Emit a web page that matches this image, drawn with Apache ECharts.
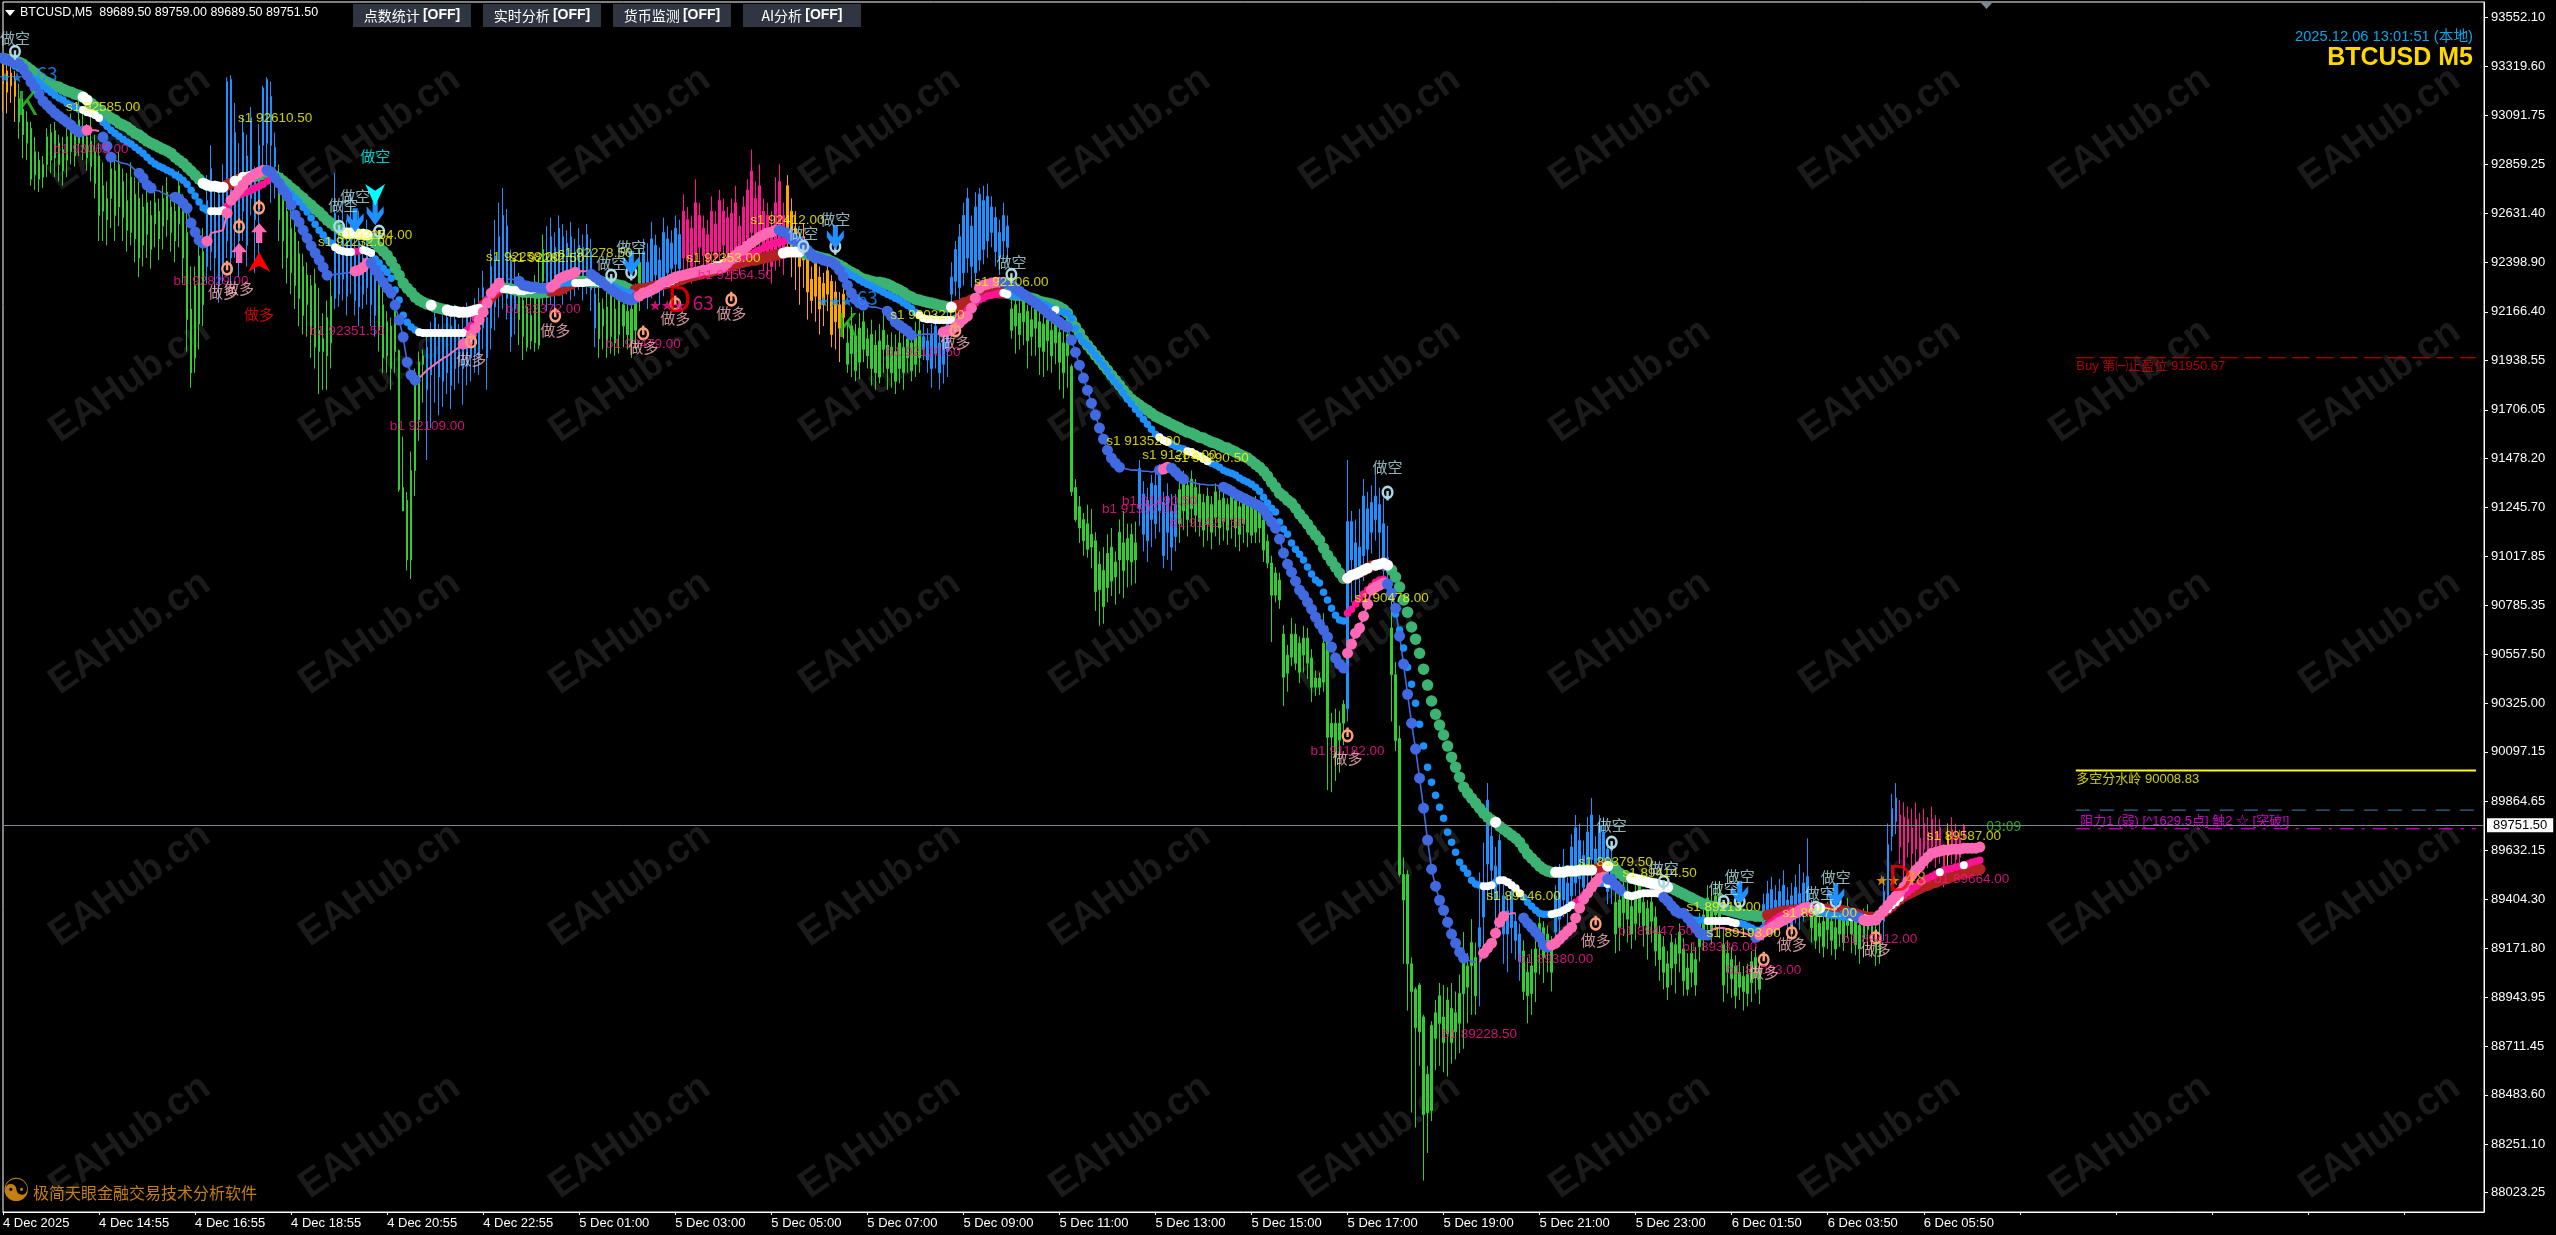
<!DOCTYPE html>
<html><head><meta charset="utf-8">
<style>html,body{margin:0;padding:0;background:#000}#c{width:2556px;height:1235px}</style>
<script src="https://cdn.jsdelivr.net/npm/echarts@6/dist/echarts.min.js"></script></head>
<body><div id="c"></div>
<script>
// ---------- axis ----------
const priceTicks=[93552.10,93319.60,93091.75,92859.25,92631.40,92398.90,92166.40,91938.55,91706.05,91478.20,91245.70,91017.85,90785.35,90557.50,90325.00,90097.15,89864.65,89632.15,89404.30,89171.80,88943.95,88711.45,88483.60,88251.10,88023.25];
const timeTicks=["4 Dec 2025","4 Dec 14:55","4 Dec 16:55","4 Dec 18:55","4 Dec 20:55","4 Dec 22:55","5 Dec 01:00","5 Dec 03:00","5 Dec 05:00","5 Dec 07:00","5 Dec 09:00","5 Dec 11:00","5 Dec 13:00","5 Dec 15:00","5 Dec 17:00","5 Dec 19:00","5 Dec 21:00","5 Dec 23:00","6 Dec 01:50","6 Dec 03:50","6 Dec 05:50"];
const lastPrice=89751.50;
// ---------- candles: [body a, body b, low, high] ----------
const bars0=[[93240,93325,93110,93350],[93200,93300,93100,93345],[93230,93290,93150,93320],[93180,93260,93060,93300],
[93060,93170,92980,93240],[93000,93120,92890,93170],[92960,93060,92880,93110],[92790,93030,92760,93060],[92810,92920,92740,92990],[92790,92880,92730,92920],[92800,92860,92750,92900],[92860,92990,92800,93030],[92880,93010,92820,93050],[92890,93020,92800,93060],[92860,92960,92780,93000],[92830,92930,92760,92990],[92880,92990,92800,93030],[92920,93040,92860,93100],[92900,93000,92850,93050],[92960,93070,92900,93170],[92940,93030,92880,93120],[92890,92990,92830,93050],[92850,92970,92780,93090],[92770,92920,92700,93000],[92620,92900,92500,92960],[92640,92760,92500,92870],[92600,92700,92480,92780],[92700,92840,92560,92900],[92620,92830,92500,92880],[92660,92860,92570,92920],[92610,92780,92500,92840],[92550,92690,92450,92820],[92540,92800,92480,92870],[92510,92720,92400,92800],[92420,92700,92330,92780],[92480,92660,92380,92720],[92530,92680,92420,92770],[92460,92620,92370,92690],[92580,92680,92470,92770],[92510,92640,92410,92700],[92570,92700,92460,92760],[92600,92730,92520,92800],[92540,92660,92450,92720],[92500,92640,92400,92730],[92580,92760,92470,92830],[92420,92650,92300,92720],[92130,92540,91980,92650],[91880,92180,91810,92380],[91950,92290,91880,92380],[92110,92430,91990,92500],[92200,92450,92100,92560],
[92380,92690,92300,92810],[92450,92840,92360,92950],[92420,92640,92260,92770],[92290,92720,92210,92780],[92380,92760,92300,92860],[92500,93250,92420,93270],[92420,93260,92300,93280],[92550,93010,92420,93150],[92500,92780,92330,92960],[92640,93010,92500,93090],[92480,92900,92380,93000],[92700,93080,92620,93130],[92600,92800,92350,92850],[92640,92950,92400,93050],[92950,93220,92800,93230],[92960,93260,92800,93270],[92950,93180,92680,93250],[92850,92940,92700,93010],
[92600,92800,92500,92860],[92500,92760,92370,92820],[92420,92640,92300,92760],[92350,92560,92250,92670],[92290,92540,92180,92600],[92230,92440,92100,92500],[92150,92380,92060,92440],[92200,92340,92050,92400],[92060,92290,91950,92340],[92000,92300,91900,92370],[91980,92080,91780,92280],[91980,92040,91800,92160],[91960,92140,91800,92220],[92020,92240,91900,92340],
[92230,92630,92180,92820],[92250,92480,92190,92620],[92320,92560,92220,92690],[92240,92500,92150,92600],[92350,92580,92250,92720],[92220,92460,92150,92550],[92190,92500,92100,92640],[92250,92420,92180,92500],[92280,92520,92200,92600],[92200,92390,92100,92470],[92150,92400,92050,92480],
[92080,92300,91980,92350],[91950,92200,91880,92280],[91960,92120,91880,92170],[91900,92100,91800,92140],[91980,92170,91880,92210]];
const bars1=[[91330,91985,91320,91990],[91230,91340,91240,91580],[91000,91280,90950,91320],[91000,91420,90910,91510],[91420,91840,91300,91900],[91660,91930,91560,91980],[91920,91960,91740,91990],
[91800,92000,91470,92080],[91870,92060,91620,92120],[91920,92140,91740,92190],[91860,92050,91680,92110],[91840,92080,91720,92150],[91880,92140,91780,92180],[91820,92100,91710,92170],[91900,92130,91800,92200],[91930,92070,91830,92110],[91900,92090,91730,92160],[91910,92140,91820,92210],[91950,92100,91840,92170],[91970,92160,91880,92230],[91950,92180,91870,92280],[92090,92280,91990,92360],[91950,92140,91800,92200],[92090,92380,91990,92460],[92190,92430,92080,92600],[92250,92520,92140,92680],[92320,92620,92180,92750],[92230,92570,92130,92650],[92050,92400,91980,92460],
[92180,92330,92060,92420],[92130,92240,92010,92350],[92050,92220,91940,92280],[92000,92190,91980,92260],[92030,92150,91990,92240],[92020,92280,91980,92340],[92010,92290,91990,92420],
[92310,92460,92200,92530],[92260,92430,92170,92570],[92290,92520,92200,92610],[92250,92470,92160,92540],[92330,92560,92240,92620],[92290,92520,92200,92580],[92340,92490,92250,92550],[92300,92520,92220,92590],[92320,92450,92240,92510],[92350,92480,92270,92560],[92310,92470,92220,92530],[92330,92530,92250,92580],[92270,92450,92170,92510],
[92090,92250,92000,92320],[92040,92210,91950,92280],[92100,92180,91990,92230],[92030,92190,91950,92260],[92050,92250,91970,92310],[92020,92180,91960,92230],[92060,92230,91970,92290],[92100,92200,92000,92260],[92060,92170,91990,92220],[92020,92180,91950,92240],[92080,92240,91990,92300],
[92230,92400,92170,92460],[92300,92450,92240,92510],[92260,92400,92180,92490],[92310,92510,92230,92590],[92340,92480,92260,92530],[92280,92410,92200,92470],[92310,92540,92240,92610],[92350,92510,92290,92570],[92370,92490,92310,92550],[92390,92560,92330,92620],
[92370,92530,92310,92600],[92420,92640,92360,92720],[92410,92600,92340,92660],[92380,92560,92300,92620],[92440,92680,92370,92790],[92470,92620,92390,92680],[92430,92560,92350,92620],[92390,92530,92320,92600],[92450,92640,92370,92710],[92420,92580,92340,92640],[92450,92690,92380,92740],[92480,92640,92400,92700],[92440,92610,92340,92660],[92420,92630,92310,92700],[92460,92680,92360,92760],
[92420,92570,92340,92620],[92470,92660,92380,92710],[92510,92740,92430,92790],[92540,92830,92460,92930],[92490,92700,92400,92780],[92530,92760,92450,92860],[92480,92640,92360,92700],[92420,92620,92340,92680],[92380,92560,92300,92640],[92440,92680,92360,92800],[92470,92780,92380,92860],[92430,92620,92340,92680],[92500,92760,92420,92810],[92450,92640,92330,92700]];
const bars2=[[92440,92560,92270,92640],[92380,92500,92200,92540],[92410,92520,92280,92580],[92260,92440,92130,92480],[92220,92320,92160,92380],[92240,92400,92120,92440],[92180,92330,92060,92380],[92200,92300,92100,92350],[92250,92360,92170,92420],[92060,92310,92000,92340],[92120,92260,91990,92310],[92090,92200,91930,92260],[92140,92250,92040,92300],
[91920,92020,91880,92120],[91970,92100,91860,92190],[91890,92050,91840,92110],[91930,92090,91850,92160],[91990,92120,91930,92170],[91960,92040,91900,92090],[91900,92060,91820,92130],[91880,92010,91800,92080],[91860,92030,91830,92110],[91990,92080,91880,92180],[91900,92010,91800,92060],[91880,92000,91810,92070],[91840,91980,91780,92060],[91900,92020,91830,92080],[91880,92000,91800,92060],[91950,92040,91880,92100],[91890,92020,91840,92090],[91920,92050,91860,92120],
[91950,92080,91880,92150],[91990,92050,91940,92110],[91940,92030,91880,92090],[91900,92060,91810,92110],[91970,92100,91900,92160],[91880,92020,91800,92080],[91920,92040,91830,92090],[91980,92110,91860,92170],
[92250,92330,92200,92400],[92310,92460,92240,92500],[92280,92520,92200,92580],[92350,92620,92290,92680],[92420,92700,92350,92750],[92380,92570,92280,92620],[92350,92660,92300,92730],[92410,92720,92360,92750],[92460,92690,92390,92760],[92500,92710,92420,92770],[92540,92660,92470,92710],[92450,92610,92380,92660],[92420,92540,92340,92600],[92500,92620,92430,92680],[92470,92570,92400,92620],
[92080,92180,92040,92240],[92100,92200,91970,92260],[92060,92160,91990,92230],[92120,92220,92010,92280],[92030,92170,91900,92200],[92050,92130,91960,92210],[92090,92180,91960,92240],[92000,92120,91870,92170],[91980,92110,91860,92190],[92030,92130,91890,92180],[91960,92080,91880,92150],[92020,92120,91920,92180],[91930,92070,91800,92120],[91880,92020,91760,92100],[91960,92060,91810,92110],[91320,91910,91300,91920],
[91190,91340,91180,91380],[91150,91250,91080,91300],[91090,91190,91020,91220],[91050,91170,91010,91260],[91060,91120,90960,91240],[90850,91090,90760,91130],[90860,90980,90690,91040],[90780,90950,90700,91060],[90870,91030,90800,91120],[90900,91060,90830,91150],[90920,90990,90790,91040],[91000,91130,90840,91190],[90950,91080,90820,91230],[91000,91100,90870,91170],[90990,91120,90880,91170],[91000,91080,90890,91180],
[91240,91430,91160,91470],[91120,91310,91040,91370],[91090,91280,90990,91340],[91190,91360,91060,91400],[91170,91350,91100,91420],[91230,91420,91130,91450],[91020,91270,90960,91320],[91130,91300,91000,91360],[91060,91230,90950,91310],[91110,91260,91040,91310]];
const bars3=[[91170,91330,91080,91380],[91230,91360,91140,91420],[91190,91350,91110,91390],[91240,91380,91160,91420],[91210,91340,91130,91380],[91180,91310,91110,91360],
[91140,91270,91060,91310],[91170,91300,91090,91340],[91130,91260,91050,91300],[91200,91320,91110,91360],[91150,91280,91070,91330],[91180,91290,91090,91340],[91140,91260,91070,91290],[91190,91300,91100,91350],[91150,91280,91060,91310],[91120,91250,91040,91290],[91170,91280,91080,91310],[91130,91270,91060,91310],
[91116,91267,91079,91290],[91130,91267,91079,91300],[91150,91250,91080,91280],[91046,91187,90990,91210],[90985,91088,90960,91120],[90834,90985,90613,91020],[90834,90938,90800,90966],[90811,90905,90770,90940],[90448,90651,90312,90693],[90467,90552,90380,90600],[90542,90651,90500,90726],[90514,90651,90481,90700],[90472,90608,90420,90640],[90552,90632,90470,90690],[90514,90632,90440,90680],[90401,90538,90331,90580],[90401,90444,90360,90480],[90401,90444,90364,90470],[90425,90608,90380,90749],[90166,90655,89917,90690],[90166,90232,89907,90280],[90072,90232,89960,90300],[90152,90232,90000,90290],[90232,90321,90128,90340],
[90300,91180,90240,91470],[91000,91180,90800,91230],[90940,91080,90810,91190],[90970,91060,90800,91240],[91020,91300,90900,91380],[91050,91240,90950,91320],[91130,91270,91030,91350],[91190,91300,91090,91400],[91130,91260,91000,91340],[90950,91170,90880,91290],[90950,91010,90840,91160],
[90460,90680,90240,90990],[90150,90460,90100,90520],[89520,90160,89510,90220],[89400,89520,89100,89600],[89100,89520,88880,89540],[88970,89100,88400,89130],[88800,88980,88330,88990],[88780,89000,88620,89010],[88390,88850,88080,88860],[88400,88580,88210,88620],[88410,88810,88360,88830],[88750,88870,88600,88930],[88820,88950,88620,89010],[88730,88850,88590,89000],[88770,88930,88570,88990],[88730,88890,88630,89010],[88780,88870,88650,88970],[88820,88960,88680,89050],[88960,89130,88700,89250],[88990,89090,88820,89150],[89090,89200,88860,89310],[88950,89130,88860,89200],
[89180,89270,88900,89530],[89320,89470,89130,89670],[89570,89870,89400,89950],[89540,89700,89400,89790],[89400,89560,89190,89650],[89490,89680,89290,89710],[89240,89420,89100,89500],[89240,89350,89060,89420],[89270,89440,89150,89500],[89210,89300,89120,89340]];
const bars4=[[89110,89240,89020,89290],[88970,89160,88930,89210],[88950,89060,88820,89130],[88960,89090,88860,89170],[89060,89170,88920,89210],[89180,89290,89050,89340],[89130,89270,89010,89300],[89180,89240,89060,89280],[89060,89180,88970,89230],
[89250,89420,89190,89470],[89310,89510,89230,89570],[89400,89560,89320,89640],[89370,89480,89280,89530],[89420,89650,89360,89710],[89480,89740,89420,89800],[89500,89680,89420,89760],[89460,89610,89390,89680],[89550,89720,89470,89790],[89590,89800,89480,89880],[89520,89640,89440,89700],[89590,89750,89520,89800],[89560,89720,89470,89790],[89440,89640,89380,89690],[89490,89590,89380,89650],
[89240,89390,89150,89440],[89270,89400,89160,89460],[89340,89440,89230,89500],[89310,89440,89200,89480],[89240,89370,89170,89430],[89290,89420,89210,89470],[89340,89470,89270,89520],[89280,89390,89180,89440],[89240,89360,89120,89400],[89300,89390,89200,89430],[89160,89320,89090,89370],
[89120,89240,89020,89280],[89060,89180,88980,89230],[88990,89100,88930,89160],[89080,89200,89000,89240],[89100,89190,88960,89220],[89150,89250,89060,89290],[89020,89170,88950,89220],[88980,89080,88950,89150],[89060,89150,88990,89200],[89000,89120,88950,89180],[89180,89290,89110,89340],[89240,89330,89160,89380],[89290,89410,89220,89470],[89260,89370,89190,89430],[89330,89420,89260,89480],[89290,89430,89220,89490],
[89000,89190,88920,89270],[89060,89150,88960,89210],[89030,89120,88940,89180],[88950,89090,88890,89140],[88990,89060,88930,89110],[88970,89040,88880,89090],[88960,89050,88900,89100],[89010,89110,88920,89160],[89040,89130,88960,89180],[88980,89080,88910,89120],
[89270,89380,89210,89430],[89310,89430,89240,89490],[89350,89450,89280,89510],[89300,89400,89240,89470],[89330,89440,89260,89500],[89370,89470,89290,89540],[89310,89400,89240,89460],[89280,89420,89210,89480],[89350,89460,89290,89520],[89320,89430,89260,89570],[89360,89480,89300,89530],[89380,89510,89320,89690],
[89270,89350,89200,89400],[89210,89320,89170,89380],[89230,89290,89150,89360],[89180,89300,89130,89350],[89260,89340,89170,89390],[89210,89300,89140,89350],[89170,89270,89120,89320],[89240,89330,89180,89370],[89200,89310,89160,89360],[89280,89370,89220,89410],[89240,89310,89150,89360],[89190,89300,89140,89350],[89170,89280,89100,89330],[89220,89310,89130,89360],[89260,89330,89180,89380],[89200,89290,89130,89340],[89150,89260,89090,89310],[89140,89230,89100,89290],
[89300,89440,89210,89510],[89420,89660,89350,89760],[89700,89830,89630,89900],[89770,89880,89710,89950],
[89650,89800,89570,89870],[89540,89790,89450,89860],[89670,89780,89600,89840],[89620,89740,89540,89830],[89640,89780,89560,89860],[89600,89690,89540,89810],[89640,89760,89580,89830],[89590,89720,89550,89790],[89650,89780,89590,89840],[89620,89720,89550,89800],[89640,89740,89570,89780],[89500,89620,89460,89660],[89610,89710,89540,89760],[89640,89730,89570,89790],[89590,89700,89530,89760],[89600,89690,89520,89730],[89689.5,89751.5,89689.5,89759]];
const zoneStart=[0,4,51,69,83,94,106,129,136,149,160,170,196,211,230,238,252,284,294,336,347,369,380,388,403,440,452,470,474,486,487];
const zoneName=['o','g','b','g','b','g','b','g','b','g','b','p','o','g','b','b','g','b','g','b','g','b','g','b','g','b','g','b','p','o','p'];
const zoneColors={o:'#ffa500',g:'#32cd32',b:'#1e90ff',p:'#ff1493'};
// ---------- indicators ----------
const fastLine=[93360,93351,93346,93341,93332,93313,93280,93247,93219,93191,
93158,93139,93120,93101,93087,93073,93059,93045,93026,93012,
93017,93021,93021,93021,93017,92989,92946,92894,92880,92871,
92866,92862,92852,92833,92819,92796,92763,92749,92739,92735,
92725,92716,92711,92706,92697,92678,92655,92584,92542,92504,
92490,92499,92537,92542,92546,92551,92631,92692,92716,92739,
92763,92786,92800,92815,92824,92833,92833,92824,92796,92772,
92739,92711,92669,92622,92589,92551,92513,92476,92443,92410,
92377,92339,92339,92344,92344,92349,92349,92353,92358,92363,
92377,92396,92396,92363,92335,92306,92278,92255,92198,92128,
92048,91930,91869,91845,91855,91874,91893,91907,91921,91935,
91949,91958,91973,91987,92001,92015,92020,92057,92090,92128,
92165,92208,92255,92278,92302,92325,92321,92321,92316,92311,
92292,92288,92283,92283,92278,92278,92278,92283,92297,92321,
92330,92339,92344,92353,92358,92358,92358,92344,92330,92316,
92302,92288,92273,92259,92245,92236,92227,92222,92231,92241,
92255,92259,92269,92278,92292,92306,92311,92321,92330,92335,
92339,92344,92349,92353,92358,92363,92363,92368,92372,92372,
92377,92396,92415,92433,92452,92457,92476,92490,92504,92518,
92528,92537,92542,92551,92551,92542,92537,92518,92504,92499,
92485,92457,92433,92419,92419,92410,92405,92401,92387,92363,
92330,92292,92255,92227,92208,92198,92194,92189,92189,92184,
92179,92170,92147,92118,92104,92090,92076,92057,92057,92057,
92062,92062,92062,92062,92062,92071,92076,92081,92095,92114,
92132,92147,92184,92231,92278,92292,92297,92302,92306,92306,
92306,92302,92292,92278,92264,92250,92236,92222,92208,92194,
92179,92161,92147,92132,92118,92104,92095,92034,91977,91916,
91855,91798,91737,91681,91620,91568,91516,91479,91455,91436,
91431,91427,91422,91422,91422,91417,91417,91413,91417,91422,
91427,91436,91431,91413,91394,91380,91370,91366,91361,91356,
91356,91352,91352,91352,91347,91342,91333,91323,91309,91300,
91290,91281,91272,91262,91253,91234,91206,91178,91149,91098,
91032,90980,90942,90900,90858,90834,90801,90768,90731,90698,
90670,90637,90590,90538,90510,90491,90561,90604,90655,90679,
90735,90792,90858,90872,90881,90891,90886,90843,90773,90641,
90510,90368,90232,90110,89973,89832,89682,89545,89465,89399,
89352,89296,89240,89197,89155,89127,89117,89112,89108,89108,
89150,89174,89197,89244,89296,89324,89333,89338,89338,89333,
89315,89291,89272,89249,89225,89188,89178,89188,89197,89216,
89235,89254,89272,89315,89362,89404,89432,89461,89484,89503,
89508,89498,89494,89470,89451,89432,89428,89428,89428,89423,
89423,89423,89418,89418,89418,89413,89395,89371,89348,89338,
89338,89315,89291,89268,89244,89235,89235,89258,89268,89268,
89268,89263,89258,89254,89249,89244,89239,89230,89225,89235,
89249,89258,89272,89282,89296,89305,89315,89329,89338,89352,
89362,89366,89371,89371,89366,89366,89362,89357,89352,89348,
89343,89338,89338,89324,89315,89305,89301,89305,89305,89329,
89352,89376,89399,89418,89437,89461,89489,89517,89541,89559,
89583,89602,89620,89625,89630,89635,89635,89639,89639,89639,
89644,89644,89644,89644,89649];
const midLine=[93360,93351,93337,93323,93313,93299,93285,93271,93257,93243,
93228,93214,93200,93186,93172,93163,93148,93139,93130,93120,
93116,93106,93101,93092,93078,93059,93040,93021,93007,92993,
92979,92965,92956,92941,92927,92913,92894,92876,92862,92852,
92843,92833,92824,92810,92800,92786,92767,92739,92711,92683,
92655,92645,92640,92640,92640,92645,92664,92683,92702,92716,
92725,92730,92739,92749,92758,92767,92782,92800,92796,92777,
92758,92739,92720,92702,92683,92659,92636,92608,92579,92551,
92528,92504,92490,92471,92457,92452,92448,92448,92452,92452,
92457,92452,92443,92415,92396,92372,92353,92325,92269,92222,
92151,92118,92095,92081,92071,92067,92067,92067,92067,92067,
92067,92067,92067,92067,92067,92067,92081,92104,92137,92170,
92198,92222,92245,92259,92269,92274,92274,92269,92269,92264,
92264,92269,92269,92274,92278,92283,92283,92288,92292,92297,
92302,92302,92302,92302,92302,92302,92306,92306,92306,92302,
92302,92297,92292,92283,92273,92264,92259,92255,92245,92241,
92245,92255,92264,92273,92283,92292,92302,92311,92321,92330,
92339,92344,92349,92353,92363,92368,92372,92377,92382,92386,
92396,92401,92405,92410,92415,92424,92433,92438,92448,92457,
92466,92476,92485,92490,92495,92499,92504,92499,92490,92480,
92466,92457,92448,92433,92424,92419,92410,92401,92387,92377,
92363,92353,92339,92330,92316,92306,92297,92288,92278,92269,
92259,92250,92241,92231,92222,92208,92198,92184,92165,92151,
92137,92132,92132,92128,92128,92128,92128,92128,92137,92147,
92161,92175,92194,92208,92222,92231,92241,92245,92250,92255,
92255,92250,92245,92241,92241,92236,92231,92226,92222,92212,
92203,92194,92184,92175,92170,92165,92161,92137,92090,92052,
92024,92010,91987,91963,91940,91916,91888,91860,91836,91813,
91784,91756,91733,91709,91686,91662,91638,91615,91591,91577,
91563,91554,91544,91535,91526,91521,91511,91507,91497,91488,
91474,91464,91455,91446,91436,91422,91413,91408,91399,91385,
91375,91366,91356,91342,91323,91295,91267,91243,91225,91178,
91145,91121,91079,91050,91027,90999,90966,90933,90905,90891,
90848,90811,90773,90740,90717,90712,90749,90768,90792,90815,
90839,90858,90876,90895,90905,90909,90895,90825,90745,90670,
90585,90495,90415,90326,90227,90124,90025,89954,89893,89837,
89785,89719,89672,89625,89578,89550,89526,89493,89475,89470,
89465,89465,89470,89484,89493,89493,89484,89470,89456,89432,
89413,89390,89371,89352,89338,89333,89333,89333,89338,89343,
89352,89362,89376,89390,89404,89423,89437,89456,89475,89479,
89479,89475,89470,89461,89451,89432,89423,89418,89423,89428,
89432,89432,89432,89432,89428,89418,89399,89381,89362,89343,
89329,89315,89310,89305,89305,89305,89301,89301,89301,89301,
89301,89301,89296,89291,89291,89286,89277,89268,89258,89258,
89268,89282,89296,89310,89324,89333,89343,89352,89352,89352,
89348,89348,89343,89343,89338,89338,89333,89329,89329,89324,
89319,89319,89319,89319,89319,89315,89310,89310,89315,89324,
89343,89357,89376,89390,89409,89423,89437,89451,89465,89479,
89493,89503,89512,89522,89531,89541,89545,89550,89555,89559,
89564,89569,89578,89583,89587];
const slowLine=[93360,93355,93351,93346,93341,93332,93318,93304,93290,93271,
93257,93247,93238,93228,93224,93214,93205,93200,93191,93186,
93177,93163,93148,93134,93116,93101,93092,93078,93069,93054,
93045,93036,93021,93007,92998,92984,92970,92960,92951,92941,
92932,92923,92913,92894,92880,92866,92847,92829,92810,92791,
92772,92763,92758,92758,92753,92753,92763,92772,92782,92791,
92800,92800,92805,92805,92810,92815,92815,92810,92805,92796,
92782,92767,92749,92735,92716,92702,92683,92669,92650,92636,
92617,92598,92584,92570,92556,92542,92537,92537,92537,92532,
92532,92528,92513,92490,92471,92452,92433,92405,92372,92339,
92302,92278,92259,92236,92222,92212,92203,92198,92189,92184,
92179,92175,92170,92170,92165,92165,92165,92170,92175,92179,
92198,92217,92236,92255,92269,92278,92278,92274,92269,92264,
92259,92259,92259,92255,92255,92259,92259,92264,92269,92269,
92278,92288,92297,92306,92311,92311,92311,92306,92306,92306,
92306,92302,92302,92297,92292,92288,92278,92269,92269,92274,
92274,92278,92283,92288,92292,92297,92302,92306,92311,92316,
92321,92330,92335,92339,92344,92349,92353,92358,92363,92368,
92377,92382,92386,92391,92396,92401,92405,92410,92410,92415,
92419,92424,92429,92433,92438,92443,92448,92448,92448,92448,
92443,92438,92433,92429,92424,92419,92415,92405,92396,92387,
92377,92363,92353,92344,92330,92321,92316,92311,92306,92306,
92302,92297,92288,92278,92269,92259,92245,92236,92226,92222,
92217,92212,92208,92203,92198,92194,92189,92189,92194,92198,
92208,92212,92222,92226,92236,92245,92255,92259,92259,92255,
92255,92255,92250,92245,92245,92241,92236,92231,92226,92217,
92212,92208,92203,92198,92189,92179,92161,92128,92095,92067,
92034,92010,91987,91963,91940,91916,91893,91869,91845,91822,
91798,91775,91756,91742,91728,91714,91704,91690,91676,91667,
91657,91648,91638,91629,91620,91610,91601,91596,91587,91577,
91573,91563,91554,91549,91540,91530,91526,91516,91507,91497,
91488,91479,91465,91450,91436,91417,91394,91366,91342,91314,
91300,91281,91267,91243,91215,91192,91168,91140,91116,91093,
91055,91022,90994,90966,90938,90914,90914,90928,90933,90942,
90952,90961,90971,90975,90980,90985,90975,90952,90919,90872,
90811,90754,90684,90627,90561,90486,90411,90336,90274,90223,
90176,90124,90072,90025,89978,89931,89903,89879,89856,89832,
89809,89790,89776,89766,89747,89733,89719,89705,89691,89672,
89644,89616,89597,89578,89559,89545,89536,89531,89531,89531,
89531,89536,89536,89536,89541,89541,89541,89541,89545,89550,
89555,89559,89559,89545,89526,89512,89508,89503,89498,89493,
89489,89484,89479,89475,89470,89465,89461,89456,89446,89437,
89428,89418,89409,89399,89390,89381,89376,89371,89366,89362,
89357,89352,89348,89343,89338,89333,89329,89329,89324,89324,
89324,89329,89333,89338,89343,89348,89348,89352,89352,89357,
89362,89362,89362,89362,89362,89357,89357,89352,89352,89352,
89348,89343,89338,89333,89329,89324,89319,89319,89319,89329,
89343,89357,89371,89390,89404,89418,89428,89437,89446,89456,
89465,89470,89479,89484,89493,89498,89503,89512,89517,89522,
89526,89531,89536,89541,89545];
// bar ranges where each indicator changes state
const fastUp=[[21,24],[51,65],[88,91],[104,125],[137,146],[159,193],[235,249],[290,291],[336,345],[369,378],[387,400],[427,437],[439,458],[465,494]];
const fastThin=[[22,24],[28,33],[38,42],[52,55],[82,87],[104,114],[125,128],[144,146],[216,220],[228,234],[280,288],[296,304],[366,369],[376,379],[405,414],[427,437],[452,460]];
const midUp=[[55,68],[88,90],[116,124],[134,138],[158,196],[239,249],[336,345],[371,372],[390,397],[441,452],[469,494]];
const slowUp=[[55,61],[115,125],[137,143],[158,199],[238,250],[336,346],[397,401],[441,468],[470,494]];
const slowWhite=[[20,21],[50,55],[58,58],[60,62],[86,91],[107,107],[111,119],[195,199],[237,237],[336,341],[343,346],[373,373],[388,397],[401,401],[407,416],[454,454]];
const midWhite=[[20,24],[52,55],[83,87],[90,92],[104,115],[125,137],[143,151],[166,168],[177,181],[207,207],[229,237],[250,251],[263,263],[289,291],[296,301],[370,372],[374,379],[387,392],[401,401],[406,415],[426,433],[462,474],[484,484],[490,490]];
// ---------- text signals: [bar, price, text] ----------
const sellLabels=[[25,93130,"s1 92585.00"],[68,93078,"s1 92610.50"],[93,92528,"s1 92254.00"],[88,92495,"s1 92232.00"],[130,92424,"s1 92258.00"],[136,92419,"s1 92282.50"],[148,92443,"s1 92278.50"],[180,92419,"s1 92353.00"],[196,92598,"s1 92412.00"],[231,92151,"s1 92032.00"],[252,92306,"s1 92106.00"],[285,91559,"s1 91352.00"],[294,91493,"s1 91283.00"],[302,91479,"s1 91290.50"],[347,90820,"s1 90478.00"],[380,89418,"s1 89146.00"],[403,89578,"s1 89379.50"],[414,89526,"s1 89414.50"],[430,89366,"s1 89213.00"],[435,89244,"s1 89193.00"],[454,89338,"s1 89271.00"],[490,89700,"s1 89587.00"]];
const buyLabels=[[22,92932,"b1 93065.00"],[52,92311,"b1 92829.00"],[86,92076,"b1 92351.50"],[106,91629,"b1 92109.00"],[135,92179,"b1 92372.00"],[160,92015,"b1 92479.00"],[183,92339,"b1 92564.50"],[230,91977,"b1 92110.50"],[284,91239,"b1 91507.00"],[289,91276,"b1 91490.50"],[301,91173,"b1 91427.50"],[336,90100,"b1 91182.00"],[369,88769,"b1 89228.50"],[388,89122,"b1 89380.00"],[413,89254,"b1 89447.50"],[429,89178,"b1 89336.00"],[440,89070,"b1 89093.00"],[469,89216,"b1 89412.00"],[492,89498,"b1 89664.00"]];
const longLabels=[[55,92259,"做多"],[59,92278,"做多"],[117,91944,"做多"],[138,92081,"做多"],[160,92001,"做多"],[168,92137,"做多"],[182,92161,"做多"],[238,92024,"做多"],[336,90067,"做多"],[398,89211,"做多"],[447,89192,"做多"],[468,89169,"做多"],[440,89061,"做多"]];
const shortLabels=[[3,93454,"做空"],[88,92711,"做空"],[85,92669,"做空"],[152,92396,"做空"],[157,92471,"做空"],[200,92537,"做空"],[208,92603,"做空"],[252,92401,"做空"],[346,91436,"做空"],[402,89752,"做空"],[415,89550,"做空"],[434,89512,"做空"],[430,89456,"做空"],[458,89508,"做空"],[454,89432,"做空"]];
const ringUp=[[56,92372],[59,92570],[64,92659],[117,92029],[138,92151],[168,92208],[182,92226],[160,92067],[238,92081],[336,90176],[398,89291],[447,89249],[468,89225],[440,89122]];
const ringDown=[[3,93388],[84,92565],[94,92542],[152,92335],[157,92349],[200,92471],[208,92471],[252,92339],[346,91314],[402,89668],[415,89484],[430,89390],[434,89390],[458,89390],[453,89362]];
const arrowUpPts=[[59,92443],[64,92537]];
const arrowDownPts=[[88,92598],[93,92631],[157,92396],[208,92518],[434,89433],[458,89423]];
const redArrowPts=[[64,92401]];
const cyanArrowPts=[[93,92716]];
// misc: [bar, price, text, color, size]
const marks=[[64,92156,"做多","#ff0000",15],[93,92899,"做空","#00ffff",15],
[169,92231,"D","#ff0000",36],[175,92208,"63","#ff1493",19],[166,92198,"★★★","#ff1493",12],
[208,92217,"★★★","#1e90ff",12],[216,92231,"63","#1e90ff",19],[211,92104,"K","#32cd32",32],
[2,93271,"★★","#1e90ff",12],[11,93285,"63","#1e90ff",19],[6,93148,"K","#32cd32",32],
[471,89494,"★★","#ffa500",12],[474,89508,"D","#ff0000",36],[478,89503,"48","#ffa500",19],
[500,89752,"03:09","#32cd32",14]];
// horizontal levels
const levelBuy=91950.67, levelPivot=90008.83, levelSteel=89823, levelResist=89735;
const levelFrom=518, levelTo=618, totalSlots=621;
const levelTexts=[[518,91911,"Buy 第㈠止盈位 91950.67","#e00000"],[518,89969,"多空分水岭 90008.83","#ffff00"],[519,89771,"阻力1 (弱) [^1629.5点] 触2 ☆ [突破!]","#ff00ff"]];

// ---------- build ----------
const inR=(r,i)=>r.some(a=>i>=a[0]&&i<=a[1]);
const FONT='"Liberation Sans","Noto Sans CJK SC",sans-serif';
const CJK='"Noto Sans CJK SC","Liberation Sans",sans-serif';
const N=fastLine.length;
const bars=[].concat(bars0,bars1,bars2,bars3,bars4).slice(0,N);
while(bars.length<N)bars.push(['-','-','-','-']);
function zoneOf(i){let z=0;for(let k=0;k<zoneStart.length;k++)if(i>=zoneStart[k])z=k;return zoneName[z];}
const cats=[];for(let i=0;i<totalSlots;i++)cats.push(String(i));
const candleSeries=Object.keys(zoneColors).map(k=>({type:'candlestick',barWidth:2,z:2,silent:true,
  itemStyle:{color:zoneColors[k],color0:zoneColors[k],borderColor:zoneColors[k],borderColor0:zoneColors[k],borderWidth:1},
  data:bars.map((b,i)=>zoneOf(i)===k?b:['-','-','-','-'])}));
function dotSeries(vals,colorFn,size,z,skip){
  const data=[];vals.forEach((v,i)=>{if(!skip||!skip(i))data.push([i,v,i]);});
  return {type:'scatter',z,silent:true,symbol:'circle',symbolSize:size,data,itemStyle:{opacity:1,color:p=>colorFn(p.data[2])}};
}
function textSeries(rows,color,size,family,z){
  return {type:'scatter',z:z||8,silent:true,symbolSize:1,itemStyle:{color:'rgba(0,0,0,0)'},data:rows,
    label:{show:true,position:'inside',formatter:p=>p.data[2],color,fontSize:size,fontFamily:family}};
}
function iconSeries(rows,path,size,color,rot,z){
  return {type:'scatter',z:z||7,silent:true,symbol:path,symbolSize:size,symbolRotate:rot||0,symbolKeepAspect:false,itemStyle:{color,opacity:1},data:rows};
}
function level(v,color,type,w){return {type:'line',z:6,silent:true,symbol:'none',data:[[levelFrom,v],[levelTo,v]],lineStyle:{color,width:w||1,type}};}
const RING='path://M10 0A10 10 0 1 1 9.99 0ZM10 4A6 6 0 1 0 10.01 4ZM8 -2H12V12H8Z';
const UP='path://M10 0L20 12H14V26H6V12H0Z';
const DDOWN='path://M7 0H13V12L20 5V12L10 24L0 12V5L7 12Z';
const DART='path://M10 0L20 26L10 18L0 26Z';
const fastColor=i=>inR(fastUp,i)?'#ff69b4':'#4169e1';
const thinOf=(wantUp)=>fastLine.map((v,i)=>inR(fastUp,i)===wantUp?v:null);
const series=[
 ...candleSeries,
 {type:'line',z:3,silent:true,symbol:'none',data:[],markLine:{silent:true,symbol:'none',animation:false,
   lineStyle:{color:'#7d8894',width:1,type:'solid'},
   label:{position:'end',distance:3,formatter:lastPrice.toFixed(2),backgroundColor:'#fff',color:'#000',fontSize:13,fontFamily:FONT,padding:[1,6,0,6]},
   data:[{yAxis:lastPrice}]}},
 dotSeries(slowLine,i=>inR(slowUp,i)?'#b22222':'#3cb371',11.5,3),
 dotSeries(midLine,i=>inR(midUp,i)?'#ff1493':'#1e90ff',7.5,4),
 {type:'line',z:4,silent:true,symbol:'none',data:thinOf(false),connectNulls:false,lineStyle:{color:'#4169e1',width:1.6}},
 {type:'line',z:4,silent:true,symbol:'none',data:thinOf(true),connectNulls:false,lineStyle:{color:'#ff69b4',width:2}},
 dotSeries(slowLine,()=>'#fff',11,5,i=>!inR(slowWhite,i)),
 dotSeries(midLine,()=>'#fff',8,5,i=>!inR(midWhite,i)),
 dotSeries(fastLine,fastColor,11,6,i=>inR(fastThin,i)),
 level(levelBuy,'#e00000',[18,6]),level(levelPivot,'#ffff00','solid',2),level(levelSteel,'#4682b4',[14,10]),level(levelResist,'#ff00ff',[14,8,3,8]),
 iconSeries(ringUp,RING,[12,15],'#ffa07a'),iconSeries(ringDown,RING,[12,15],'#add8e6',180),
 iconSeries(arrowUpPts,UP,[16,20],'#ff69b4'),iconSeries(arrowDownPts,DDOWN,[17,24],'#1e90ff'),
 iconSeries(redArrowPts,DART,[22,20],'#ff0000'),iconSeries(cyanArrowPts,DART,[20,22],'#00ffff',180),
 textSeries(sellLabels,'#ffff00',13.5,FONT),textSeries(buyLabels,'#ff1493',13.5,FONT),
 textSeries(longLabels,'#ffb6c1',15,CJK),textSeries(shortLabels,'#b0e0e6',15,CJK),
 {type:'scatter',z:8,silent:true,symbolSize:1,itemStyle:{color:'rgba(0,0,0,0)'},
  data:marks.map(m=>({value:[m[0],m[1]],label:{show:true,position:'inside',formatter:m[2],color:m[3],fontSize:m[4],fontFamily:CJK}}))},
 {type:'scatter',z:8,silent:true,symbolSize:1,itemStyle:{color:'rgba(0,0,0,0)'},
  data:levelTexts.map(m=>({value:[m[0],m[1]],label:{show:true,position:'right',distance:0,formatter:m[2],color:m[3],fontSize:13,fontFamily:FONT}}))}
];
// ---------- page furniture ----------
const gfx=[];
for(let r=0;r<5;r++)for(let c=0;c<10;c++){
  gfx.push({type:'text',z:0,silent:true,x:130+250*c,y:129+252*r,rotation:0.61,
    style:{text:'EAHub.cn',fill:'#1b1b1b',font:'bold 39px "Liberation Sans"',textAlign:'center',textVerticalAlign:'middle'}});
}
const T=(x,y,text,font,fill,align)=>({type:'text',z:20,silent:true,x,y,style:{text,font,fill,textAlign:align||'left',textVerticalAlign:'middle'}});
gfx.push({type:'polygon',z:20,silent:true,shape:{points:[[5,10],[15,10],[10,16]]},style:{fill:'#fff'}});
gfx.push(T(20,13,'BTCUSD,M5  89689.50 89759.00 89689.50 89751.50','12.5px "Liberation Sans"','#fff'));
[[353,'点数统计'],[483,'实时分析'],[613,'货币监测'],[743,'AI分析']].forEach(b=>{
  gfx.push({type:'rect',z:20,silent:true,shape:{x:b[0],y:4,width:118,height:23},style:{fill:'#2f3642'}});
  gfx.push({type:'text',z:21,silent:true,x:b[0]+59,y:15.5,style:{rich:{a:{font:'14px "Noto Sans CJK SC"',fill:'#fff'},b:{font:'bold 14px "Liberation Sans"',fill:'#fff'}},text:'{a|'+b[1]+' }{b|[OFF]}',textAlign:'center',textVerticalAlign:'middle'}});
});
gfx.push(T(2473,37,'2025.12.06 13:01:51 (本地)','14.7px "Liberation Sans","Noto Sans CJK SC"','#00a8f0','right'));
gfx.push(T(2473,58,'BTCUSD M5','bold 25px "Liberation Sans"','#ffd700','right'));
gfx.push({type:'polygon',z:20,silent:true,shape:{points:[[1981,3],[1992,3],[1986.5,9]]},style:{fill:'#778899'}});
gfx.push(T(16,1193,'☯','32px "DejaVu Sans"','#c47f10','center'));
gfx.push(T(33,1193,'极简天眼金融交易技术分析软件','16px "Noto Sans CJK SC"','#c47f10'));

const chart=echarts.init(document.getElementById('c'),null,{renderer:'canvas'});
chart.setOption({
 animation:false,backgroundColor:'#000',
 grid:{left:2,right:72,top:2,bottom:23,show:true,borderColor:'#fff',borderWidth:1,backgroundColor:'transparent'},
 xAxis:{type:'category',data:cats,boundaryGap:false,
   axisLine:{lineStyle:{color:'#fff'}},
   axisTick:{show:true,length:3,interval:i=>i%24===0,lineStyle:{color:'#fff'}},
   axisLabel:{show:true,color:'#fff',fontSize:13,fontFamily:FONT,align:'left',margin:5,interval:i=>i%24===0,hideOverlap:false,
     formatter:(v,i)=>timeTicks[i/24]||''},
   splitLine:{show:false}},
 yAxis:{type:'value',position:'right',min:87932.6,max:93624.1,scale:true,
   axisLine:{show:true,lineStyle:{color:'#fff'}},
   axisTick:{show:true,length:4,customValues:priceTicks,lineStyle:{color:'#fff'}},
   axisLabel:{color:'#fff',fontSize:13,fontFamily:FONT,margin:7,customValues:priceTicks,showMinLabel:true,showMaxLabel:true,formatter:v=>v.toFixed(2)},
   splitLine:{show:false}},
 graphic:gfx,
 series
});
</script>
</body></html>
